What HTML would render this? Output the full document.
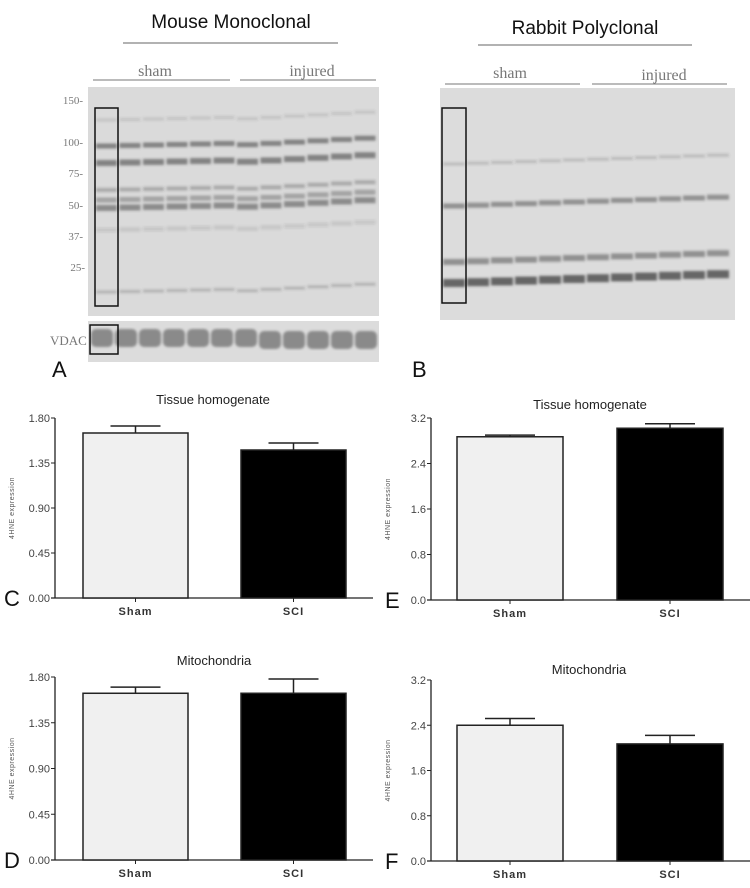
<!DOCTYPE html>
<html><head><meta charset="utf-8"><style>
html,body{margin:0;padding:0;background:#fff;}
svg{display:block;font-family:"Liberation Sans",Arial,sans-serif;}
.serif{font-family:"Liberation Serif",serif;fill:#777;}
</style></head><body>
<svg id="fig" width="750" height="888" viewBox="0 0 750 888">
<defs>
<filter id="blur1"><feGaussianBlur stdDeviation="1.2"/></filter>
</defs>
<!-- Blot A -->
<g>
<text x="231" y="28" font-size="19" text-anchor="middle" fill="#111">Mouse Monoclonal</text>
<line x1="123" y1="43" x2="338" y2="43" stroke="#666" stroke-width="1"/>
<text x="155" y="76" font-size="16" text-anchor="middle" class="serif">sham</text>
<line x1="93" y1="80" x2="230" y2="80" stroke="#777"/>
<text x="312" y="76" font-size="16" text-anchor="middle" class="serif">injured</text>
<line x1="240" y1="80" x2="376" y2="80" stroke="#777"/>
<rect x="88" y="87" width="291" height="229" fill="#dadada"/>
<g id="bandsA" filter="url(#blur1)"></g>
<rect x="95" y="108" width="23" height="198" fill="none" stroke="#111" stroke-width="1.5"/>
<g class="serif" font-size="11" text-anchor="end">
<text x="83" y="104">150-</text><text x="83" y="146">100-</text><text x="83" y="177">75-</text>
<text x="83" y="209">50-</text><text x="83" y="240">37-</text><text x="85" y="271">25-</text>
</g>
<rect x="88" y="321" width="291" height="41" fill="#dcdcdc"/>
<g id="vdac" filter="url(#blur1)"></g>
<rect x="90" y="325" width="28" height="29" fill="none" stroke="#111" stroke-width="1.5"/>
<text x="50" y="345" font-size="13" class="serif">VDAC</text>
<text x="52" y="377" font-size="22" fill="#111">A</text>
</g>
<!-- Blot B -->
<g>
<text x="585" y="34" font-size="19" text-anchor="middle" fill="#111">Rabbit Polyclonal</text>
<line x1="478" y1="45" x2="692" y2="45" stroke="#666"/>
<text x="510" y="78" font-size="16" text-anchor="middle" class="serif">sham</text>
<line x1="445" y1="84" x2="580" y2="84" stroke="#777"/>
<text x="664" y="80" font-size="16" text-anchor="middle" class="serif">injured</text>
<line x1="592" y1="84" x2="727" y2="84" stroke="#777"/>
<rect x="440" y="88" width="295" height="232" fill="#dcdcdc"/>
<g id="bandsB" filter="url(#blur1)"></g>
<rect x="442" y="108" width="24" height="195" fill="none" stroke="#111" stroke-width="1.5"/>
<text x="412" y="377" font-size="22" fill="#111">B</text>
</g>
<g id="charts"></g>
</svg>
<script>
// Chart data
const categories = ["Sham", "SCI"];
const cMeans = [1.65, 1.48];
const cErrs = [0.07, 0.07];
const dMeans = [1.64, 1.64];
const dErrs = [0.06, 0.14];
const eMeans = [2.87, 3.02];
const eErrs = [0.03, 0.08];
const fMeans = [2.40, 2.07];
const fErrs = [0.12, 0.15];
const ticks18 = ["0.00", "0.45", "0.90", "1.35", "1.80"];
const ticks32 = ["0.0", "0.8", "1.6", "2.4", "3.2"];

const NS = "http://www.w3.org/2000/svg";
function mk(parent, tag, attrs){const e=document.createElementNS(NS,tag);for(const k in attrs)e.setAttribute(k,attrs[k]);parent.appendChild(e);return e;}

// blot bands (decorative)
(function(){
  const gA=document.getElementById('bandsA');
  const rowsA=[[146,2.5,0.55],[163,3,0.55],[120,1.5,0.15],[190,2,0.3],[200,2.5,0.35],[208,3,0.5],[230,2,0.12],[292,1.5,0.25]];
  for(let i=0;i<12;i++){
    const x=95+i*23.5;const slope=(i>5?(i-5)*-1.3:0);
    rowsA.forEach(r=>{const ry=r[0]+slope+(i<6?i*-0.5:0);
      mk(gA,'rect',{x:x+1,y:ry-r[1],width:21,height:r[1]*2,fill:'rgba(60,60,60,'+r[2]+')'});});
  }
  const gV=document.getElementById('vdac');
  for(let i=0;i<12;i++){mk(gV,'rect',{x:91+i*24,y:329+(i>6?2:0),width:22,height:18,rx:5,fill:'#8a8a8a'});}
  const gB=document.getElementById('bandsB');
  const rowsB=[[164,1.5,0.2],[206,2.5,0.45],[262,3,0.45],[283,4,0.7]];
  for(let i=0;i<12;i++){
    const x=442+i*24;const slope=i*-0.8;
    rowsB.forEach(r=>{mk(gB,'rect',{x:x+1,y:r[0]+slope-r[1],width:22,height:r[1]*2,fill:'rgba(50,50,50,'+r[2]+')'});});
  }
})();

function drawChart(cfg){
  const g=mk(document.getElementById('charts'),'g',{});
  
  
  const y=v=>cfg.y0-(v/cfg.max)*(cfg.y0-cfg.yTop);
  mk(g,'line',{x1:cfg.ax,y1:cfg.yTop,x2:cfg.ax,y2:cfg.y0,stroke:'#222','stroke-width':1.3});
  mk(g,'line',{x1:cfg.ax-4,y1:cfg.y0,x2:cfg.xEnd,y2:cfg.y0,stroke:'#222','stroke-width':1.3});
  cfg.ticks.forEach((t,i)=>{
    const v=cfg.max*i/(cfg.ticks.length-1);
    mk(g,'line',{x1:cfg.ax-4,y1:y(v),x2:cfg.ax,y2:y(v),stroke:'#222'});
    const tx=mk(g,'text',{x:cfg.ax-5,y:y(v)+4,'font-size':11,'text-anchor':'end',fill:'#444'});
    tx.textContent=t;
    
    
  });
  const yl=mk(g,'text',{x:0,y:0,'font-size':7,'text-anchor':'middle',fill:'#555',transform:'translate('+cfg.ylx+','+((cfg.y0+cfg.yTop)/2)+') rotate(-90)','letter-spacing':'0.5'});
  yl.textContent='4HNE expression';
  
  
  const tt=mk(g,'text',{x:cfg.tx,y:cfg.ty,'font-size':13,'text-anchor':'middle',fill:'#222'});
  tt.textContent=cfg.title;
  
  
  categories.forEach((c,i)=>{
    const bx=cfg.bx[i], bw=cfg.bw, cx=bx+bw/2;
    const top=y(cfg.means[i]), et=y(cfg.means[i]+cfg.errs[i]);
    mk(g,'line',{x1:cx,y1:et,x2:cx,y2:top,stroke:'#222','stroke-width':1.5});
    mk(g,'line',{x1:cx-25,y1:et,x2:cx+25,y2:et,stroke:'#222','stroke-width':1.5});
    const b=mk(g,'rect',{x:bx,y:top,width:bw,height:cfg.y0-top,fill:i===0?'#f0f0f0':'#000',stroke:'#222','stroke-width':1.5});
    
    
    mk(g,'line',{x1:cx,y1:cfg.y0,x2:cx,y2:cfg.y0+4,stroke:'#222'});
    const l=mk(g,'text',{x:cx,y:cfg.y0+17,'font-size':11,'font-weight':'bold','text-anchor':'middle',fill:'#333','letter-spacing':'1'});
    l.textContent=c;
    
    
  });
  const pl=mk(g,'text',{x:cfg.px,y:cfg.y0+8,'font-size':22,fill:'#111'});
  pl.textContent=cfg.letter;
  
  
}
drawChart({name:'chart-c',ax:55,y0:598,yTop:418,max:1.8,xEnd:373,ticks:ticks18,means:cMeans,errs:cErrs,bx:[83,241],bw:105,title:'Tissue homogenate',tx:213,ty:404,ylx:14,px:4,letter:'C'});
drawChart({name:'chart-d',ax:55,y0:860,yTop:677,max:1.8,xEnd:373,ticks:ticks18,means:dMeans,errs:dErrs,bx:[83,241],bw:105,title:'Mitochondria',tx:214,ty:665,ylx:14,px:4,letter:'D'});
drawChart({name:'chart-e',ax:431,y0:600,yTop:418,max:3.2,xEnd:750,ticks:ticks32,means:eMeans,errs:eErrs,bx:[457,617],bw:106,title:'Tissue homogenate',tx:590,ty:409,ylx:390,px:385,letter:'E'});
drawChart({name:'chart-f',ax:431,y0:861,yTop:680,max:3.2,xEnd:750,ticks:ticks32,means:fMeans,errs:fErrs,bx:[457,617],bw:106,title:'Mitochondria',tx:589,ty:674,ylx:390,px:385,letter:'F'});
</script>
</body></html>
